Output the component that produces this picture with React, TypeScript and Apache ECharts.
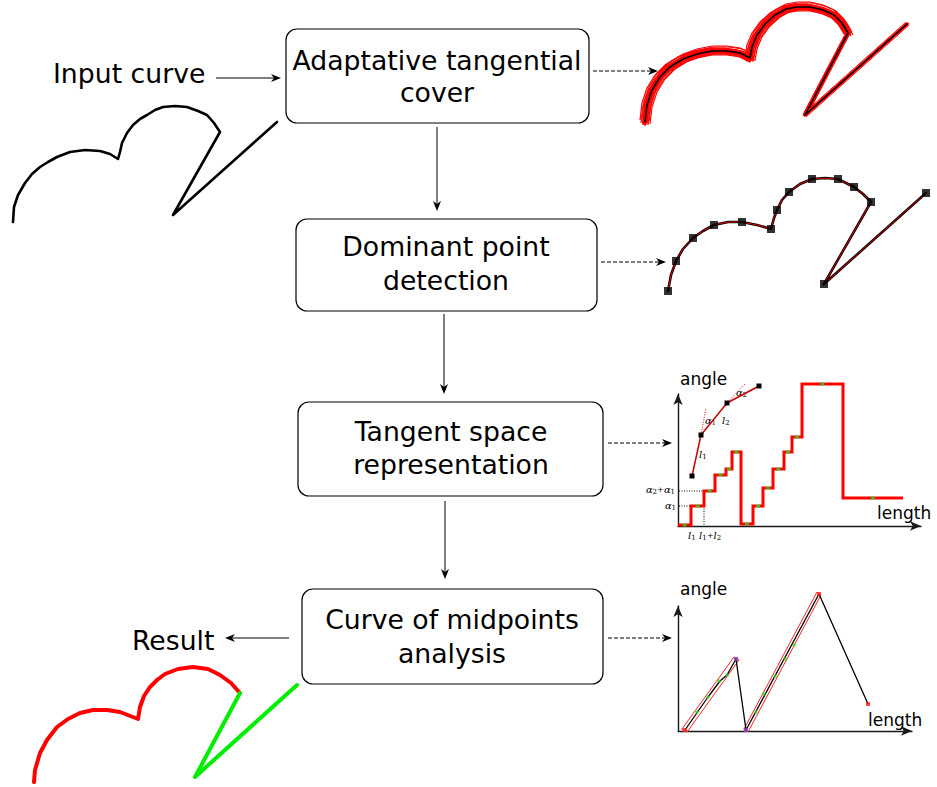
import React, { useEffect, useRef } from "react";
import * as echarts from "echarts";

// ---------- data (pixel space for drawings) ----------
const boxTitles = [
  ["Adaptative tangential", "cover"],
  ["Dominant point", "detection"],
  ["Tangent space", "representation"],
  ["Curve of midpoints", "analysis"],
];
const inputLabel = "Input curve";
const resultLabel = "Result";
const axisAngle = "angle";
const axisLength = "length";

const inputCurve = [
  [13, 222], [14, 207], [18, 195], [25, 183], [32, 174], [40, 167], [48, 162], [57, 157], [70, 152],
  [85, 150], [100, 151], [110, 154], [118, 159], [120, 152], [122, 143], [127, 133], [133, 125],
  [140, 119], [147, 115], [155, 110], [163, 107], [175, 106], [187, 107], [198, 111], [207, 115],
  [214, 123], [220, 132], [173, 215], [277, 122],
];
const coverArc = [
  [645, 122], [647, 105], [652, 90], [660, 77], [670, 67], [683, 59], [697, 54], [712, 51], [727, 51],
  [740, 53], [750, 58], [752, 47], [757, 35], [765, 24], [775, 15], [786, 9], [797, 7], [810, 7],
  [823, 10], [834, 15], [842, 23], [848, 33],
];
const coverV = [[848, 33], [805, 115], [907, 24]];
const dominantCurve = [
  [668, 291], [671, 275], [676, 261], [683, 249], [693, 238], [703, 231], [714, 225], [728, 222],
  [742, 222], [757, 225], [771, 229], [774, 218], [777, 210], [782, 200], [789, 192], [800, 184],
  [812, 179], [825, 178], [838, 179], [854, 187], [863, 194], [871, 202], [824, 284], [926, 193],
];
const dominantPoints = [
  [668, 291], [676, 261], [693, 238], [714, 225], [742, 222], [771, 229], [777, 210], [789, 192],
  [812, 179], [838, 179], [854, 187], [871, 202], [824, 284], [926, 193],
];
const resultRed = [
  [34, 782], [35, 770], [40, 753], [47, 740], [57, 727], [68, 719], [80, 713], [93, 710], [107, 710],
  [120, 712], [138, 719], [140, 707], [144, 696], [150, 687], [157, 680], [165, 674], [178, 669],
  [193, 667], [208, 669], [220, 675], [231, 683], [240, 693],
];
const resultGreen = [[240, 693], [195, 777], [297, 685]];
const tangentInset = [[692, 476], [701, 435], [727, 403], [759, 386]];

// tangent space: [length, angle] plateau starts (step function), last point = end
const tangentSteps = [
  [0, 1], [13, 20], [26, 35], [37, 51], [48, 57], [54, 74], [63, 2], [75, 20], [85, 38], [95, 57],
  [106, 74], [114, 89], [124, 142], [165, 28], [225, 28],
];
// curve of midpoints: [length, angle]
const midCurve = [[7, 1], [30, 34], [42, 50], [49, 56], [58, 72], [68, 1], [141, 137], [190, 27]];
const midBand1 = [[4, 2], [56, 74], [61, 71], [9, -1], [4, 2]];
const midBand2 = [[66, 2], [139, 139], [143, 136], [70, -1], [66, 2]];
const midGreen = [[19, 19], [30, 34], [41, 50], [49, 56], [78, 19], [86, 37], [97, 55], [107, 72], [116, 86]];
const midPurple = [[58, 72], [68, 1]];
const midRed = [[7, 1], [141, 137], [190, 27]];

// ---------- layout ----------
const boxes = [
  { x: 286, y: 29, w: 303, h: 94, cx: 437, l1: 60, l2: 92 },
  { x: 296, y: 219, w: 301, h: 92, cx: 446, l1: 246, l2: 280 },
  { x: 298, y: 402, w: 305, h: 94, cx: 451, l1: 431, l2: 464 },
  { x: 302, y: 589, w: 301, h: 95, cx: 452, l1: 619, l2: 653 },
];
// offsets of the thin strokes that make up the scribbled tangential cover
const scribbleOffsets = [
  [-3, -3], [3, 3], [-4, 1], [4, -1], [0, -5], [0, 4], [-2, 3], [2, -4], [-5, -2], [5, 2], [-1, -2], [1, 2],
];

const SANS = "DejaVu Sans";
const SERIF = "DejaVu Serif";
const FS = 26.7;

function arrow(x1: number, y1: number, x2: number, y2: number, dashed: boolean) {
  const a = Math.atan2(y2 - y1, x2 - x1);
  const L = 10, hw = 4;
  const c = Math.cos(a), s = Math.sin(a);
  const bx = x2 - L * c, by = y2 - L * s;
  const nx = x2 - L * 0.7 * c, ny = y2 - L * 0.7 * s;
  const px = -s * hw, py = c * hw;
  return [
    {
      type: "line",
      shape: { x1, y1, x2: nx, y2: ny },
      style: { stroke: "#000", lineWidth: 1, lineDash: dashed ? [4, 2] : null },
    },
    {
      type: "polygon",
      shape: { points: [[x2, y2], [bx + px, by + py], [nx, ny], [bx - px, by - py]] },
      style: { fill: "#000" },
    },
  ];
}

function txt(x: number, y: number, text: string, size: number, align: string, font = SANS, italic = false) {
  return {
    type: "text",
    x,
    y,
    style: {
      text,
      fontSize: size,
      fontFamily: font,
      fontStyle: italic ? "italic" : "normal",
      fill: "#000",
      align,
      textAlign: align,
      verticalAlign: "middle",
      textVerticalAlign: "middle",
    },
  };
}

// math label: list of [dx, text, kind] kind: "b" base italic, "s" subscript, "p" plus
function math(x: number, y: number, parts: [number, string, string][]) {
  return parts.map(([dx, t, k]) => {
    if (k === "s") return txt(x + dx, y + 3, t, 7, "left", SERIF, false);
    if (k === "p") return txt(x + dx, y, t, 8, "left", SERIF, false);
    return txt(x + dx, y, t, 10, "left", SERIF, true);
  });
}

function dotted(x1: number, y1: number, x2: number, y2: number, color = "#000") {
  return {
    type: "line",
    shape: { x1, y1, x2, y2 },
    style: { stroke: color, lineWidth: 1, lineDash: [1, 1.5] },
  };
}

export default function App() {
  const ref = useRef<HTMLDivElement>(null);
  useEffect(() => {
    if (!ref.current) return;
    const chart = echarts.init(ref.current, null, { renderer: "svg" });

    const graphics: any[] = [];
    boxes.forEach((b, i) => {
      graphics.push({
        type: "rect",
        shape: { x: b.x, y: b.y, width: b.w, height: b.h, r: 11 },
        style: { fill: "#fff", stroke: "#000", lineWidth: 1.2 },
        z: 1,
      });
      graphics.push({ ...txt(b.cx, b.l1, boxTitles[i][0], FS, "center"), z: 2 });
      graphics.push({ ...txt(b.cx, b.l2, boxTitles[i][1], FS, "center"), z: 2 });
    });
    graphics.push(txt(53, 73, inputLabel, FS, "left"));
    graphics.push(txt(132, 640, resultLabel, FS, "left"));
    // solid arrows
    graphics.push(...arrow(216, 78, 281, 78, false));
    graphics.push(...arrow(289, 638, 225, 638, false));
    graphics.push(...arrow(437, 127, 437, 211, false));
    graphics.push(...arrow(444, 314, 444, 394, false));
    graphics.push(...arrow(445, 501, 445, 579, false));
    // dashed arrows
    graphics.push(...arrow(593, 71, 658, 71, true));
    graphics.push(...arrow(601, 262, 666, 262, true));
    graphics.push(...arrow(608, 443, 672, 443, true));
    graphics.push(...arrow(608, 638, 672, 638, true));
    // plot labels
    graphics.push(txt(680, 379, axisAngle, 17, "left"));
    graphics.push(txt(877, 513, axisLength, 17, "left"));
    graphics.push(txt(680, 589, axisAngle, 17, "left"));
    graphics.push(txt(868, 720, axisLength, 17, "left"));
    // tangent plot annotations
    graphics.push(dotted(679, 491, 704, 491));
    graphics.push(dotted(679, 506, 691, 506));
    graphics.push(dotted(704, 506, 704, 526));
    graphics.push(dotted(701, 435, 706, 408, "#e00000"));
    graphics.push(dotted(727, 403, 745, 384, "#e00000"));
    graphics.push(...math(646, 489, [[0, "α", "b"], [6.5, "2", "s"], [11, "+", "p"], [18, "α", "b"], [24.5, "1", "s"]]));
    graphics.push(...math(665, 505, [[0, "α", "b"], [6.5, "1", "s"]]));
    graphics.push(...math(688, 535, [[0, "l", "b"], [3.2, "1", "s"]]));
    graphics.push(...math(699, 535, [[0, "l", "b"], [3.2, "1", "s"], [8, "+", "p"], [14.5, "l", "b"], [17.7, "2", "s"]]));
    graphics.push(...math(699, 454, [[0, "l", "b"], [3.2, "1", "s"]]));
    graphics.push(...math(705, 420, [[0, "α", "b"], [6.5, "1", "s"]]));
    graphics.push(...math(722, 420, [[0, "l", "b"], [3.2, "2", "s"]]));
    graphics.push(...math(736, 392, [[0, "α", "b"], [6.5, "2", "s"]]));

    const plotAxis = (gridIndex: number, max: number) => ({
      gridIndex,
      type: "value",
      min: 0,
      max,
      axisLine: {
        show: true,
        onZero: false,
        symbol: ["none", "arrow"],
        symbolSize: [7, 11],
        lineStyle: { color: "#1a1a1a", width: 1.4 },
      },
      axisTick: { show: false },
      axisLabel: { show: false },
      splitLine: { show: false },
    });
    const hiddenAxis = (max: number, inverse: boolean) => ({
      gridIndex: 0,
      type: "value",
      min: 0,
      max,
      inverse,
      show: false,
      splitLine: { show: false },
    });

    const tangentMid = tangentSteps.slice(0, -1).map((p, i) => [(p[0] + tangentSteps[i + 1][0]) / 2, p[1]]);

    const line = (data: number[][], color: string, width: number, ax: number, extra: any = {}) => ({
      type: "line",
      xAxisIndex: ax,
      yAxisIndex: ax,
      data,
      symbol: "none",
      showSymbol: false,
      clip: false,
      silent: true,
      lineStyle: { color, width, join: "round", cap: "round" },
      ...extra,
    });
    const dots = (data: number[][], color: string, size: any, ax: number, z = 5) => ({
      type: "scatter",
      xAxisIndex: ax,
      yAxisIndex: ax,
      data,
      symbol: "rect",
      symbolSize: size,
      clip: false,
      silent: true,
      itemStyle: { color },
      z,
    });

    const shift = (pts: number[][], o: number[]) => pts.map(([x, y]) => [x + o[0], y + o[1]]);
    const scribble: any[] = [];
    scribbleOffsets.forEach((o) => {
      scribble.push(line(shift(coverArc, o), "#ff0000", 1.2, 0, { lineStyle: { color: "#ff0000", width: 1.2, join: "miter" } }));
    });
    scribbleOffsets.slice(0, 4).forEach((o) => {
      scribble.push(line(shift(coverV, [o[0] * 0.5, o[1] * 0.5]), "#ff0000", 1, 0));
    });

    chart.setOption({
      animation: false,
      backgroundColor: "#fff",
      grid: [
        { left: 0, top: 0, width: 937, height: 787 },
        { left: 678, top: 394, width: 243, height: 132 },
        { left: 678, top: 606, width: 234, height: 125 },
      ],
      xAxis: [hiddenAxis(937, false), plotAxis(1, 243), plotAxis(2, 234)],
      yAxis: [hiddenAxis(787, true), plotAxis(1, 132), plotAxis(2, 125)],
      graphic: { elements: graphics },
      series: [
        line(inputCurve, "#000", 2.6, 0),
        line(coverArc, "#ff0000", 6, 0),
        ...scribble,
        line(coverV, "#ff0000", 3.5, 0),
        line(coverArc, "#000", 1.6, 0, { z: 3 }),
        line(coverV, "#000", 1.6, 0, { z: 3 }),
        line(dominantCurve, "#000", 2.6, 0),
        line(dominantCurve, "#e00000", 1, 0, { z: 3 }),
        dots(dominantPoints, "#000", 8, 0),
        line(resultRed, "#ff0000", 4, 0),
        line(resultGreen, "#00ee00", 4, 0),
        line(tangentInset, "#c80000", 1.5, 0, {
          symbol: "rect",
          showSymbol: true,
          symbolSize: 5,
          itemStyle: { color: "#000" },
        }),
        line(tangentSteps, "#ff0000", 3, 1, { step: "end", lineStyle: { color: "#ff0000", width: 3, join: "miter" } }),
        dots(tangentMid, "#22dd22", [4, 3], 1),
        line(midBand1, "#ff2020", 1, 2),
        line(midBand2, "#ff2020", 1, 2),
        line(midCurve, "#000", 1.3, 2, { z: 3 }),
        dots(midGreen, "#22dd22", 3, 2),
        dots(midPurple, "#8040c0", 4, 2),
        dots(midRed, "#ff2020", 4, 2),
      ],
    });
    return () => chart.dispose();
  }, []);
  return (
    <div
      ref={ref}
      style={{ position: "fixed", left: 0, top: 0, width: 937, height: 787, background: "#fff" }}
    />
  );
}
